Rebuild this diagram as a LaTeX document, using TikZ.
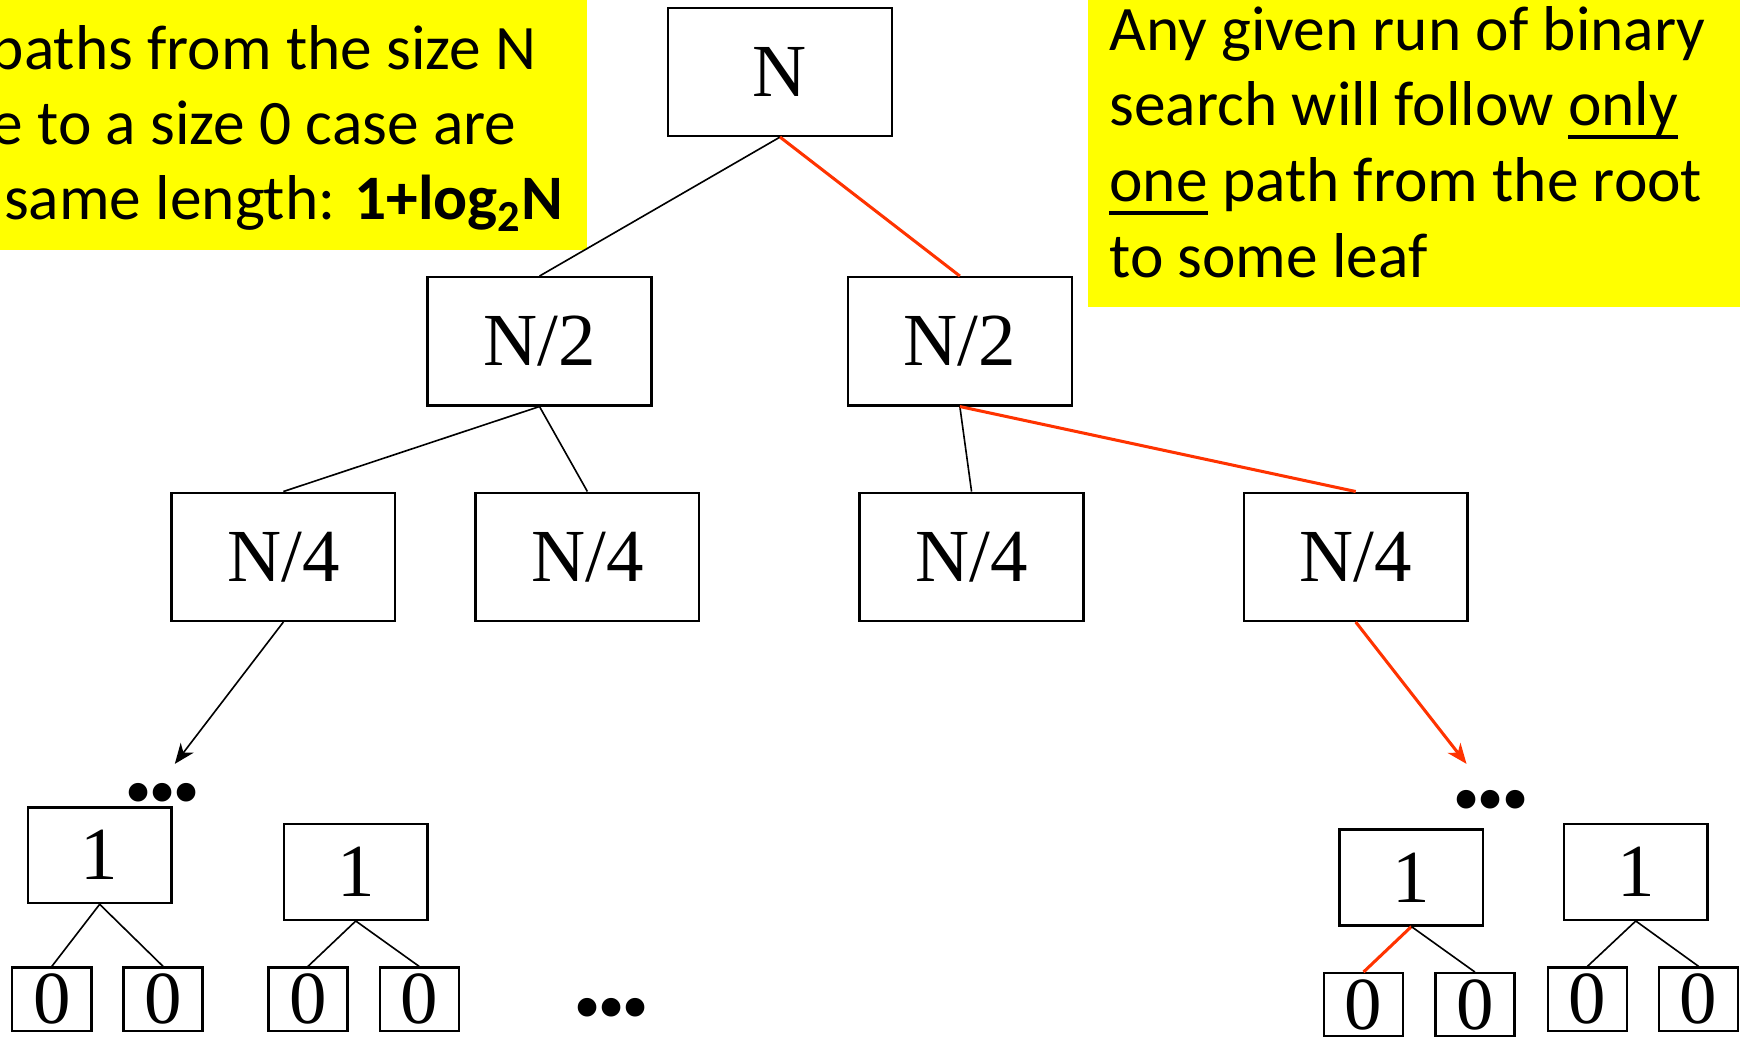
\documentclass[tikz,border=0pt]{standalone}
\usepackage{fontspec}
\setmainfont{Liberation Serif}
\newfontfamily\calfont{Carlito}
\usetikzlibrary{arrows.meta}
\definecolor{pathred}{RGB}{255,51,0}
\definecolor{noteyellow}{RGB}{255,255,0}
\newcommand\myul[1]{\setbox0\hbox{#1}\rlap{\rule[-6.6pt]{\wd0}{2pt}}\box0\relax}
\begin{document}
\begin{tikzpicture}[x=0.55pt,y=-0.55pt,
  box/.style={draw, line width=1.2pt, inner sep=0pt, fill=white, font=\fontsize{37}{40}\selectfont},
  big/.style={box, minimum width=110.5pt, minimum height=63.25pt},
  one/.style={box, minimum width=70.95pt, minimum height=47.3pt},
  zero/.style={box, minimum width=39.05pt, minimum height=31.35pt},
  edge/.style={line width=0.8pt},
  hot/.style={line width=1.5pt, draw=pathred},
  notebox/.style={fill=noteyellow, inner sep=0pt, anchor=north west},
  note/.style={font=\calfont\fontsize{31.3}{37.4}\selectfont, inner sep=0pt},
  dots/.style={font=\fontsize{34}{34}\selectfont\bfseries, inner sep=0pt},
  tip/.style={-{Stealth[length=10pt,width=8pt,inset=3pt]}}]
\useasboundingbox (0,0) rectangle (1568,931);
% notes
\node[notebox, minimum width=289.85pt, minimum height=123.2pt] (noteL) at (0,0) {};
\node[notebox, minimum width=321.75pt, minimum height=151.25pt] (noteR) at (977,0) {};
\node[note, anchor=base east] (tL1) at (482,62) {paths from the size N};
\node[note, anchor=base east] (tL2) at (464,130) {e to a size 0 case are};
\node[note, anchor=base east] (tL3) at (506,197) {same length: \textbf{1+log\textsubscript{2}N}};
\node[note, anchor=base west] (tR1) at (996,45) {Any given run of binary};
\node[note, anchor=base west] (tR2) at (996,113) {search will follow \myul{only}};
\node[note, anchor=base west] (tR3) at (996,181) {\myul{one} path from the root};
\node[note, anchor=base west] (tR4) at (996,249) {to some leaf};
% tree nodes
\node[big] (n) at (700.5,64.5) {N};
\node[big] (l) at (484.5,306.5) {N/2};
\node[big] (r) at (862,306.5) {N/2};
\node[big] (ll) at (254.5,500) {N/4};
\node[big] (lr) at (527.5,500) {N/4};
\node[big] (rl) at (872.5,500) {N/4};
\node[big] (rr) at (1217.5,500) {N/4};
\node[one] (a) at (89.5,768) {1};
\node[one] (b) at (319.5,783) {1};
\node[one] (c) at (1267.5,788) {1};
\node[one] (d) at (1469,783) {1};
\node[zero] (a1) at (46.5,897.5) {0};
\node[zero] (a2) at (146.5,897.5) {0};
\node[zero] (b1) at (276.5,897.5) {0};
\node[zero] (b2) at (376.5,897.5) {0};
\node[zero] (c1) at (1224.5,902.5) {0};
\node[zero] (c2) at (1324.5,902.5) {0};
\node[zero] (d1) at (1425.5,897.5) {0};
\node[zero] (d2) at (1525.5,897.5) {0};
% dots
\node[dots] (dl) at (146,718) {•••};
\node[dots] (dr) at (1339,724) {•••};
\node[dots] (dm) at (549,911) {•••};
% edges
\draw[edge] (n.south) -- (l.north);
\draw[hot] (n.south) -- (r.north);
\draw[edge] (l.south) -- (ll.north);
\draw[edge] (l.south) -- (lr.north);
\draw[edge] (r.south) -- (rl.north);
\draw[hot] (r.south) -- (rr.north);
\coordinate (la) at (157,686);
\coordinate (ra) at (1317,686);
\draw[edge, tip] (ll.south) -- (la);
\draw[hot, tip, pathred] (rr.south) -- (ra);
\draw[edge] (a.south) -- (a1.north);
\draw[edge] (a.south) -- (a2.north);
\draw[edge] (b.south) -- (b1.north);
\draw[edge] (b.south) -- (b2.north);
\draw[hot] (c.south) -- (c1.north);
\draw[edge] (c.south) -- (c2.north);
\draw[edge] (d.south) -- (d1.north);
\draw[edge] (d.south) -- (d2.north);
\end{tikzpicture}
\end{document}
